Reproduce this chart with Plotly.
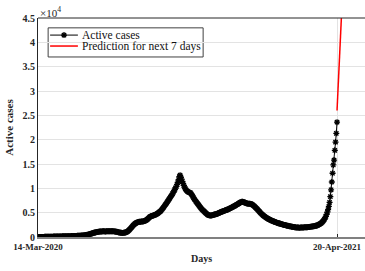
import pandas as pd
import plotly.graph_objects as go

start_date = "2020-03-14"

active_cases = [
    5, 8, 10, 12, 15, 18, 20, 22, 25, 28, 30, 34, 38, 42, 46, 50, 55, 60, 64, 70,
    75, 80, 85, 90, 95, 100, 104, 108, 112, 116,
    120, 124, 128, 130, 134, 138, 140, 144, 148, 150, 155, 160, 165, 170, 175, 180,
    186, 192, 198, 205, 212, 220, 228, 236, 245, 255, 265, 276, 288, 300,
    315, 330, 350, 370, 395, 420, 450, 480, 520, 560,
    610, 660, 710, 760, 810, 860, 900, 940, 980, 1010,
    1040, 1070, 1090, 1110, 1130, 1140, 1150, 1160, 1160, 1160,
    1150, 1150, 1160, 1170, 1180, 1190, 1190, 1190, 1190, 1185,
    1180, 1170, 1160, 1150, 1130, 1100, 1060, 1020, 980, 940,
    900, 870, 850, 840, 840, 850, 870, 900, 950, 1020,
    1110, 1220, 1350, 1500, 1670, 1850, 2030, 2210, 2380, 2540,
    2680, 2800, 2900, 2980, 3040, 3080, 3110, 3130, 3150, 3170,
    3190, 3210, 3240, 3280, 3340, 3420, 3520, 3640, 3780, 3940,
    4100, 4180, 4260, 4330, 4380, 4420, 4470, 4520, 4600, 4680,
    4770, 4870, 4980, 5100, 5230, 5380, 5550, 5740, 5940, 6150,
    6370, 6590, 6810, 7030, 7260, 7490, 7720, 7950, 8180, 8420,
    8670, 8930, 9200, 9480, 9770, 10080, 10420, 10800, 11250, 11800,
    12400, 12700,
    12300, 11900, 11400, 11000, 10600, 10250, 9950, 9700,
    9500, 9350, 9250, 9200, 9150, 9050, 8850, 8600, 8350, 8100,
    7850, 7600, 7350, 7150, 6950, 6750, 6550, 6350, 6150, 5950,
    5750, 5600, 5450, 5300, 5150, 5000, 4850, 4720, 4600, 4500,
    4450, 4420, 4400, 4420, 4450, 4500, 4550, 4600, 4650, 4680,
    4720, 4780, 4850, 4920, 5000, 5070, 5130, 5200, 5260, 5310,
    5360, 5420, 5480, 5540, 5600, 5660, 5720, 5800, 5880, 5960,
    6040, 6120, 6200, 6280, 6360, 6450, 6540, 6630, 6720, 6820,
    6920, 7020, 7110, 7180, 7220, 7230, 7200, 7150, 7080, 7000,
    6930, 6880, 6850, 6840, 6840, 6830, 6800, 6750, 6660, 6550,
    6420, 6280, 6130, 5980, 5830, 5670, 5500, 5330, 5160, 4990,
    4830, 4680, 4540, 4410, 4290, 4170, 4060, 3960, 3860, 3770,
    3680, 3600, 3520, 3450, 3380, 3310, 3250, 3190, 3130, 3070,
    3010, 2950, 2900, 2850, 2800, 2750, 2700, 2650, 2610, 2570,
    2530, 2490, 2450, 2410, 2370, 2330, 2290, 2250, 2220, 2190,
    2160, 2130, 2100, 2070, 2040, 2010, 1990, 1970, 1950, 1940,
    1930, 1920, 1920, 1930, 1940, 1950, 1960, 1970, 1980, 1990,
    2000, 2010, 2020, 2040, 2060, 2080, 2100, 2120, 2140, 2160,
    2190, 2220, 2250, 2290, 2330, 2380, 2440, 2510, 2590, 2680,
    2780, 2900, 3040, 3200, 3400, 3640, 3920, 4250, 4640, 5100,
    5650, 6300, 7100, 8300,
    9700, 11300, 13100, 14800, 15800, 17800, 19500, 21300, 23600,
]

prediction = [26000, 29000, 32100, 35300, 38600, 42000, 45500]

series_names = ["Active cases", "Prediction for next 7 days"]
y_tick_values = [0, 5000, 10000, 15000, 20000, 25000, 30000, 35000, 40000, 45000]
y_tick_labels = ["0", "0.5", "1", "1.5", "2", "2.5", "3", "3.5", "4", "4.5"]
x_tick_labels = ["14-Mar-2020", "20-Apr-2021"]

dates = pd.date_range(start=start_date, periods=len(active_cases), freq="D")
pred_dates = pd.date_range(start=dates[-1], periods=len(prediction), freq="D")
x_end = dates[0] + pd.Timedelta(days=439.6)

FONT = "Liberation Serif"
AX = "#262626"
MARKER = dict(symbol="asterisk-open", size=5, color="black",
              line=dict(color="black", width=1.3))

fig = go.Figure()
fig.add_trace(go.Scatter(
    x=dates, y=active_cases, mode="lines+markers", name=series_names[0],
    line=dict(color="black", width=1), marker=MARKER, showlegend=False,
))
fig.add_trace(go.Scatter(
    x=pred_dates, y=prediction, mode="lines", name=series_names[1],
    line=dict(color="red", width=1.5), showlegend=False,
))

# compact MATLAB-style legend in paper coordinates
LEG_X0, LEG_X1, LEG_Y0, LEG_Y1 = 0.031, 0.505, 0.822, 0.955
ROW_Y = [0.922, 0.872]
SAMPLE_X = [0.037, 0.122]
TEXT_X = 0.128

fig.add_trace(go.Scatter(
    x=[(SAMPLE_X[0] + SAMPLE_X[1]) / 2], y=[ROW_Y[0]], xaxis="x2", yaxis="y2",
    mode="markers", marker=MARKER, showlegend=False, hoverinfo="skip",
))

shapes = [
    dict(type="line", xref="paper", yref="paper", x0=0, x1=1, y0=1, y1=1,
         line=dict(color=AX, width=1)),
    dict(type="rect", xref="paper", yref="paper", x0=LEG_X0, x1=LEG_X1, y0=LEG_Y0, y1=LEG_Y1,
         line=dict(color="#404040", width=1), fillcolor="white", layer="between"),
    dict(type="line", xref="paper", yref="paper", x0=SAMPLE_X[0], x1=SAMPLE_X[1],
         y0=ROW_Y[0], y1=ROW_Y[0], line=dict(color="black", width=1), layer="between"),
    dict(type="line", xref="paper", yref="paper", x0=SAMPLE_X[0], x1=SAMPLE_X[1],
         y0=ROW_Y[1], y1=ROW_Y[1], line=dict(color="red", width=1.5), layer="between"),
]

annotations = [
    dict(text="×10<sup>4</sup>", xref="paper", yref="paper", x=0, y=1,
         xanchor="left", yanchor="bottom", showarrow=False,
         font=dict(family=FONT, size=11, color=AX), yshift=-3),
]
for name, ry in zip(series_names, ROW_Y):
    annotations.append(dict(text=name, xref="paper", yref="paper", x=TEXT_X, y=ry,
                            xanchor="left", yanchor="middle", showarrow=False,
                            font=dict(family=FONT, size=11.5, color="#111")))

fig.update_layout(
    width=365, height=271,
    margin=dict(l=38, r=0, t=18, b=34),
    paper_bgcolor="white", plot_bgcolor="white",
    font=dict(family=FONT, color=AX),
    showlegend=False,
    xaxis=dict(
        range=[dates[0], x_end], automargin=False,
        tickvals=[dates[0], dates[-1]],
        ticktext=["<b>%s</b>" % t for t in x_tick_labels],
        tickfont=dict(family=FONT, size=9, color=AX),
        ticks="inside", ticklen=3, tickcolor=AX,
        showgrid=True, gridcolor="#e3e3e3", gridwidth=1,
        showline=True, linecolor="#808080", linewidth=2,
        zeroline=False,
        title=dict(text="<b>Days</b>", font=dict(family=FONT, size=10, color=AX), standoff=4),
    ),
    yaxis=dict(
        range=[0, 45000], automargin=False,
        tickvals=y_tick_values,
        ticktext=["<b>%s</b>" % t for t in y_tick_labels],
        tickfont=dict(family=FONT, size=10, color=AX),
        ticks="",
        showgrid=True, gridcolor="#e3e3e3", gridwidth=1,
        showline=True, linecolor=AX, linewidth=1,
        zeroline=False,
        title=dict(text="<b>Active cases</b>", font=dict(family=FONT, size=11, color=AX), standoff=6),
    ),
    xaxis2=dict(overlaying="x", range=[0, 1], visible=False, fixedrange=True),
    yaxis2=dict(overlaying="y", range=[0, 1], visible=False, fixedrange=True),
    shapes=shapes,
    annotations=annotations,
)

fig.write_html("out.html", config={"displayModeBar": False},
               post_script="document.body.style.margin='0';")
